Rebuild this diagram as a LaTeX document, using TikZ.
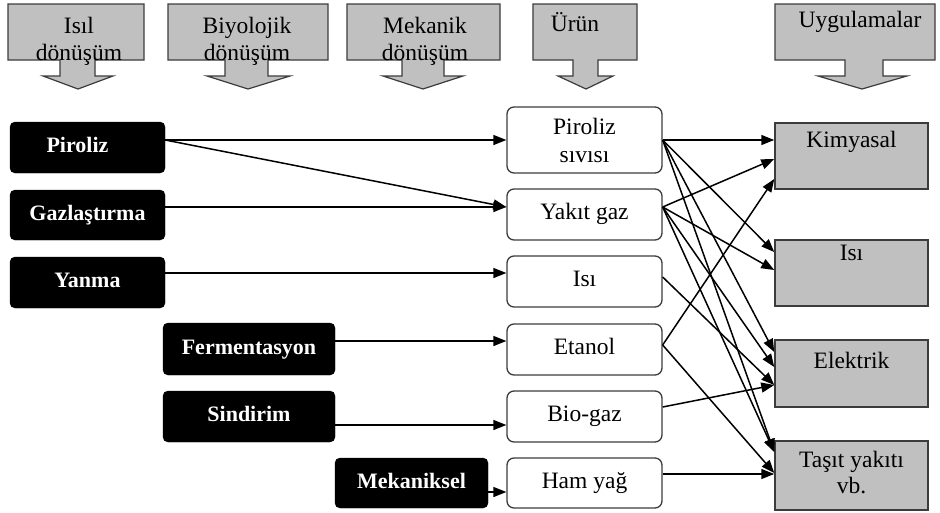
\documentclass[tikz,border=0pt]{standalone}
\usepackage{fontspec}
\setmainfont{Liberation Serif}
\usetikzlibrary{arrows.meta,calc}
\definecolor{boxgray}{RGB}{192,192,192}
\definecolor{edgegray}{RGB}{60,60,60}
\newcommand{\hdrarrow}[7]{\draw[hdr] (#1,4) -- (#2,4) -- (#2,60) -- (#4,60) -- (#4,76) -- (#6,76) -- (#7,89) -- (#5,76) -- (#3,76) -- (#3,60) -- (#1,60) -- cycle;}
\begin{document}
\begin{tikzpicture}[x=1pt,y=-1pt,
  hdr/.style={fill=boxgray,draw=edgegray,line width=1.2pt,line join=miter},
  hdrtext/.style={font=\fontsize{23.5}{27}\selectfont,align=center,inner sep=0pt},
  blk/.style={fill=black,draw=black,rounded corners=5pt,text=white,
     font=\fontsize{22}{26}\selectfont\bfseries,text height=15pt,text depth=5pt,inner sep=0pt},
  prd/.style={fill=white,draw=edgegray,line width=1.3pt,rounded corners=7pt,
     minimum width=155pt,font=\fontsize{23.5}{28}\selectfont,align=center,inner sep=0pt},
  app/.style={fill=boxgray,draw=edgegray,line width=1.5pt,minimum width=153pt,inner sep=0pt},
  apptext/.style={font=\fontsize{23.5}{26}\selectfont,align=center,inner sep=0pt,anchor=center},
  arr/.style={line width=1.5pt,-{Triangle[length=13pt,width=10pt]}}]
\useasboundingbox (0,0) rectangle (940,512);
% header arrows
\hdrarrow{8}{144}{60}{95}{43}{113}{78}
\hdrarrow{168}{328}{225}{268}{207}{290}{248}
\hdrarrow{347}{500}{402}{444}{383}{463}{423}
\hdrarrow{533}{637}{573}{598}{558}{613}{586}
\hdrarrow{775}{935}{845}{883}{818}{907}{862}
\node[hdrtext] (h1) at (79,41) {Isıl\\dönüşüm};
\node[hdrtext] (h2) at (247,41) {Biyolojik\\dönüşüm};
\node[hdrtext] (h3) at (425,41) {Mekanik\\dönüşüm};
\node[hdrtext] (h4) at (575,22) {Ürün};
\node[hdrtext] (h5) at (860,22) {Uygulamalar};
% process boxes
\node[blk,minimum width=155pt,minimum height=51pt] (pir) at (87.5,147.5) {\hspace*{-20pt}Piroliz};
\node[blk,minimum width=155pt,minimum height=50pt] (gaz) at (87.5,215) {Gazlaştırma};
\node[blk,minimum width=155pt,minimum height=51pt] (yan) at (87.5,282.5) {Yanma};
\node[blk,minimum width=172pt,minimum height=52pt] (fer) at (249,349) {Fermentasyon};
\node[blk,minimum width=172pt,minimum height=51pt] (sin) at (249,416.5) {Sindirim};
\node[blk,minimum width=153pt,minimum height=50pt] (mek) at (411.5,483) {Mekaniksel};
% products
\node[prd,minimum height=66pt] (ps) at (584.5,140) {Piroliz\\sıvısı};
\node[prd,minimum height=51pt,text height=16pt,text depth=6pt] (yg) at (584.5,214.5) {Yakıt gaz};
\node[prd,minimum height=51pt,text height=16pt,text depth=6pt] (is) at (584.5,281.5) {Isı};
\node[prd,minimum height=51pt,text height=16pt,text depth=6pt] (et) at (584.5,349.5) {Etanol};
\node[prd,minimum height=51pt,text height=16pt,text depth=6pt] (bg) at (584.5,416.5) {Bio-gaz};
\node[prd,minimum height=50pt,text height=16pt,text depth=6pt] (hy) at (584.5,483) {Ham yağ};
% applications
\node[app,minimum height=66pt] (ch) at (851.5,156) {};
\node[app,minimum height=66pt] (ht) at (851.5,273) {};
\node[app,minimum height=67pt] (el) at (851.5,373.5) {};
\node[app,minimum height=69pt] (tr) at (851.5,475.5) {};
\node[apptext] (cht) at ($(ch.north)+(0,20)$) {Kimyasal};
\node[apptext] (htt) at ($(ht.north)+(0,14)$) {Isı};
\node[apptext] (elt) at ($(el.north)+(0,21)$) {Elektrik};
\node[apptext] (trt) at ($(tr.north)+(0,32)$) {Taşıt yakıtı\\vb.};
% left connectors
\draw[arr] (pir.east |- 0,140) -- (ps.west |- 0,140);
\draw[arr] (pir.east |- 0,140) -- (yg.west |- 0,207);
\draw[arr] (gaz.east |- 0,207) -- (yg.west |- 0,207);
\draw[arr] (yan.east |- 0,273) -- (is.west |- 0,273);
\draw[arr] (fer.east |- 0,341) -- (et.west |- 0,341);
\draw[arr] (sin.east |- 0,425) -- (bg.west |- 0,425);
\draw[arr] (mek.east |- 0,492) -- (hy.west |- 0,492);
% right connectors
\draw[arr] (ps.east |- 0,140) -- (ch.west |- 0,140);
\draw[arr] (ps.east |- 0,140) -- (ht.west |- 0,252);
\draw[arr] (ps.east |- 0,140) -- (el.west |- 0,352);
\draw[arr] (ps.east |- 0,140) -- (tr.west |- 0,452);
\draw[arr] (yg.east |- 0,207) -- (ch.west |- 0,159);
\draw[arr] (yg.east |- 0,207) -- (ht.west |- 0,270);
\draw[arr] (yg.east |- 0,207) -- (el.west |- 0,367);
\draw[arr] (yg.east |- 0,207) -- (tr.west |- 0,452);
\draw[arr] (is.east |- 0,277) -- (el.west |- 0,385);
\draw[arr] (et.east |- 0,345) -- (ch.west |- 0,179);
\draw[arr] (et.east |- 0,345) -- (tr.west |- 0,473);
\draw[arr] (bg.east |- 0,407) -- (el.west |- 0,385);
\draw[arr] (hy.east |- 0,474) -- (tr.west |- 0,474);
\end{tikzpicture}
\end{document}
